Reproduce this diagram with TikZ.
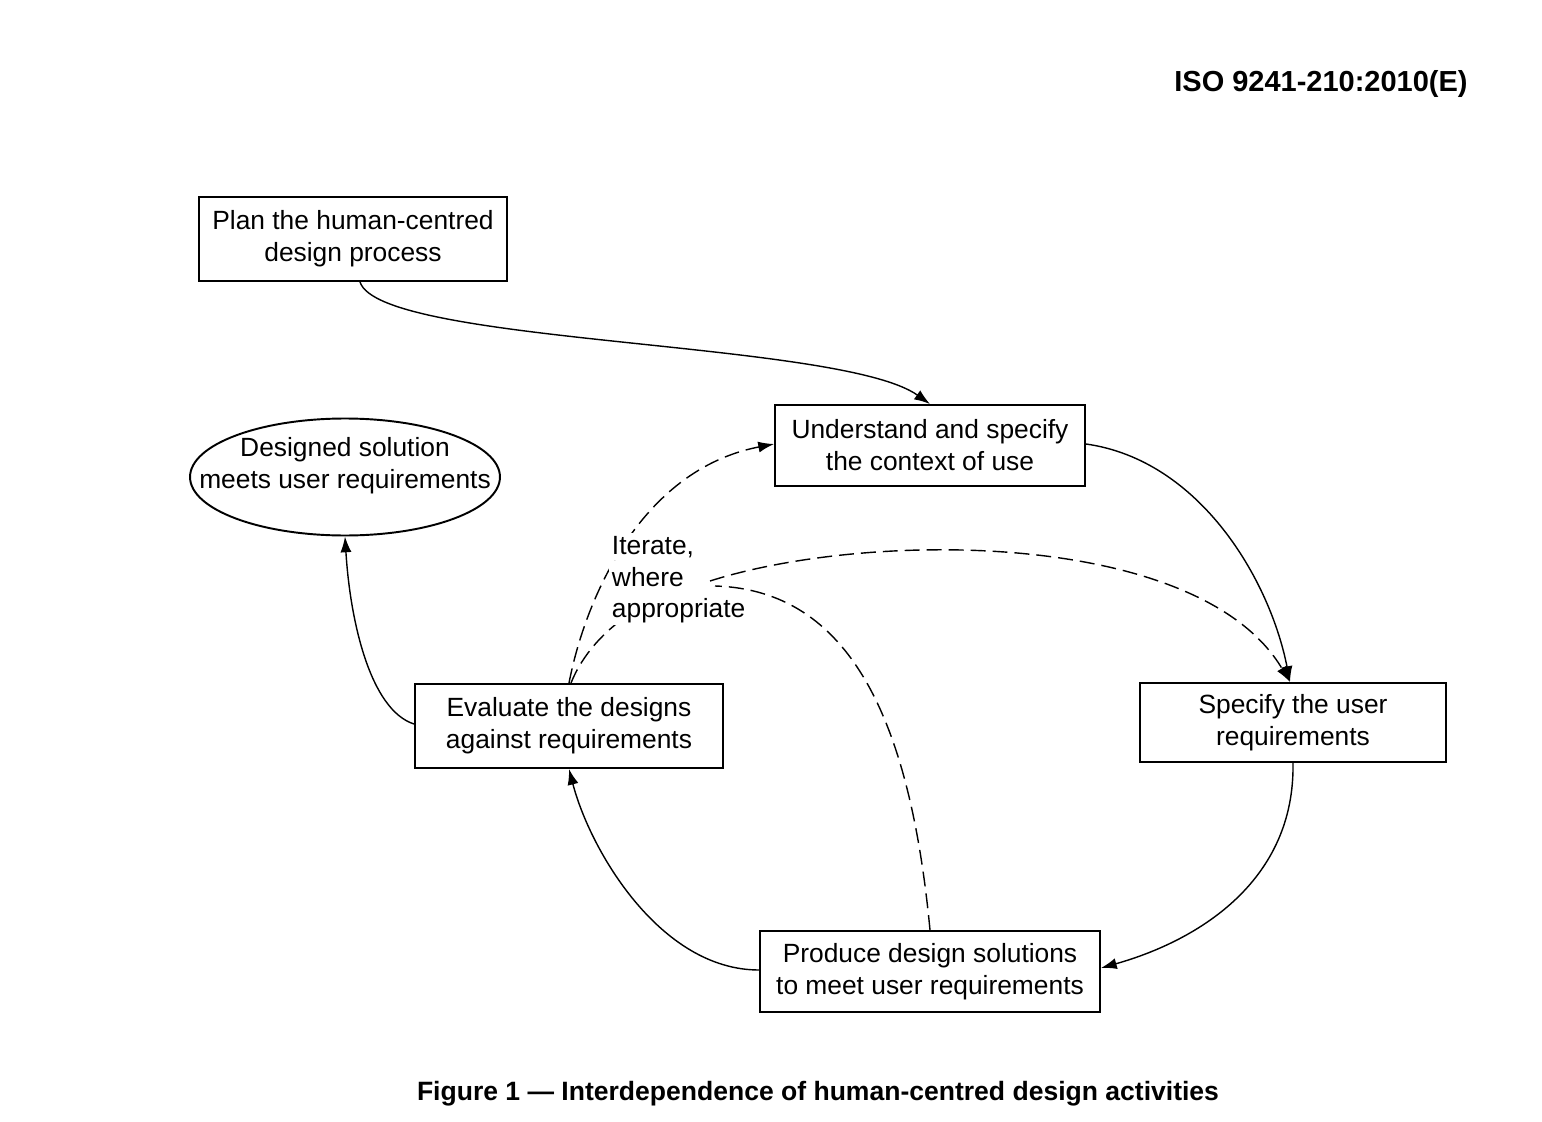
\documentclass[tikz,border=0pt]{standalone}
\usepackage{fontspec}
\setmainfont{Liberation Sans}
\usetikzlibrary{shapes.geometric,arrows.meta}
\begin{document}
\begin{tikzpicture}[x=0.02cm,y=-0.02cm,
  every node/.style={font=\fontsize{15}{18.2}\selectfont},
  boxnode/.style={draw,line width=1.1pt,inner sep=0pt,align=center},
  tip/.style={-{Latex[length=9pt,width=6.3pt]}},
  conn/.style={line width=0.8pt,tip},
  dconn/.style={line width=0.8pt,dash pattern=on 8.5pt off 4pt},
  iterline/.style={anchor=base west,inner sep=1.5pt,fill=white},
  bold/.style={font=\fontsize{16.5}{20}\selectfont\bfseries}]
\useasboundingbox (0,0) rectangle (1542,1122);
\node[bold,anchor=east,inner sep=0pt] (hdr) at (1468,84) {ISO 9241-210:2010(E)};
\node[font=\fontsize{15.1}{18}\selectfont\bfseries] (cap) at (818,1094) {Figure 1 — Interdependence of human-centred design activities};
\node[boxnode,minimum width=6.16cm,minimum height=1.68cm] (plan) at (353,239) {Plan the human-centred\\design process};
\node[boxnode,minimum width=6.2cm,minimum height=1.62cm] (und) at (930,445.5) {Understand and specify\\the context of use};
\node[draw,line width=1.1pt,ellipse,inner sep=0pt,minimum width=6.2cm,minimum height=2.34cm,
  label={[align=center,yshift=0.23cm]center:Designed solution\\meets user requirements}] (done) at (345,477) {};
\node[boxnode,minimum width=6.16cm,minimum height=1.68cm] (eval) at (569,726) {Evaluate the designs\\against requirements};
\node[boxnode,minimum width=6.12cm,minimum height=1.58cm] (spec) at (1293,722.5) {Specify the user\\requirements};
\node[boxnode,minimum width=6.8cm,minimum height=1.62cm] (prod) at (930,971.5) {Produce design solutions\\to meet user requirements};
\coordinate (b1) at (630,614);
\coordinate (c1) at (710,581);
\coordinate (d1) at (715,586);
% solid connectors
\draw[conn] ([xshift=0.14cm]plan.south) .. controls (380,345) and (840,340) .. (und.north);
\draw[conn] ([yshift=0.03cm]und.east) .. controls (1200,460) and (1270,580) .. ([xshift=-0.06cm]spec.north);
\draw[conn] (spec.south) .. controls (1295,880) and (1200,940) .. ([yshift=0.07cm]prod.east);
\draw[conn] ([yshift=0.03cm]prod.west) .. controls (660,970) and (590,850) .. (eval.south);
\draw[conn] ([yshift=0.04cm]eval.west) .. controls (370,710) and (350,620) .. (done.south);
% dashed connectors
\draw[dconn,tip] (eval.north) .. controls (585,600) and (640,470) .. ([yshift=0.03cm]und.west);
\draw[dconn] ([xshift=0.04cm]eval.north) .. controls (582,655) and (605,630) .. (b1);
\draw[dconn,tip] (c1) .. controls (870,530) and (1200,530) .. ([xshift=-0.06cm]spec.north);
\draw[dconn] (prod.north) .. controls (910,720) and (850,590) .. (d1);
% label of the iteration
\node[iterline] (it1) at (609,554) {Iterate,};
\node[iterline] (it2) at (609,586) {where};
\node[iterline] (it3) at (609,617) {appropriate};
\end{tikzpicture}
\end{document}
